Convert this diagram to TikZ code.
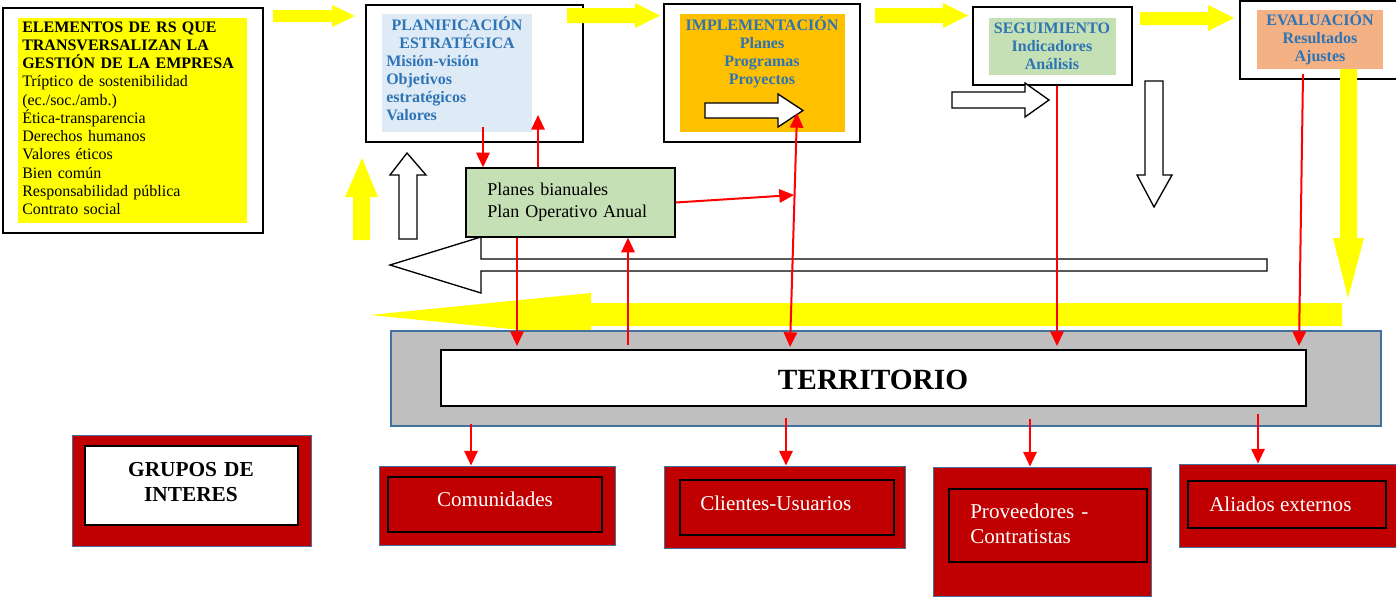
\documentclass[tikz,border=0pt]{standalone}
\usepackage{fontspec}
\setmainfont{Liberation Serif}
\usetikzlibrary{arrows.meta,fit}

\definecolor{rsyellow}{HTML}{FFFF00}
\definecolor{titleblue}{HTML}{2E74B5}
\definecolor{planblue}{HTML}{DEEBF7}
\definecolor{implorange}{HTML}{FFC000}
\definecolor{seggreen}{HTML}{C5E0B4}
\definecolor{evalsalmon}{HTML}{F4B183}
\definecolor{terrgray}{HTML}{BFBFBF}
\definecolor{grupored}{HTML}{C00000}
\definecolor{edgeblue}{HTML}{41719C}

\tikzset{
	outerbox/.style={draw=black, line width=1.5pt, inner sep=0pt},
	fillbox/.style={inner sep=0pt},
	redbox/.style={draw=edgeblue, line width=0.75pt, fill=grupored, inner sep=0pt},
	innerbox/.style={draw=black, line width=1.5pt, inner sep=0pt},
	txt/.style={inner sep=0pt, font=\fontsize{12}{13.7}\selectfont},
	bluetxt/.style={inner sep=0pt, text=titleblue, font=\bfseries\fontsize{12}{13.7}\selectfont},
	grptxt/.style={inner sep=0pt, text=white, font=\fontsize{15.8}{18.8}\selectfont},
	redarr/.style={draw=red, line width=1.5pt, -{Triangle[length=11pt,width=10pt]}},
	redboth/.style={draw=red, line width=1.5pt, {Triangle[length=11pt,width=10pt]}-{Triangle[length=11pt,width=10pt]}},
	hollow/.style={draw=black, line width=1pt, fill=white, line join=miter},
}

\begin{document}
\begin{tikzpicture}[x=0.75pt,y=-0.75pt]
	\useasboundingbox (0,0) rectangle (1396,597);

	% elementos de RS
	\node[outerbox, fit={(3,8) (263,233)}] (rs) {};
	\node[fillbox, fill=rsyellow, fit={(18,18) (247,223)}] (rsfill) {};
	\node[txt, anchor=base west, text width=180pt, align=left] (rstxt) at (22,32)
		{\textbf{ELEMENTOS DE RS QUE}\\\textbf{TRANSVERSALIZAN LA}\\\textbf{GESTIÓN DE LA EMPRESA}\\
		Tríptico de sostenibilidad\\(ec./soc./amb.)\\Ética-transparencia\\Derechos humanos\\
		Valores éticos\\Bien común\\Responsabilidad pública\\Contrato social};

	% planificacion
	\node[outerbox, fit={(366,5) (583,142)}] (plan) {};
	\node[fillbox, fill=planblue, fit={(382,14) (532,132)}] (planfill) {};
	\node[bluetxt, anchor=base, text width=110pt, align=center] (plantitle) at (457,30) {PLANIFICACIÓN\\ESTRATÉGICA};
	\node[bluetxt, anchor=base west, text width=100pt, align=left] (planlist) at (386,66) {Misión-visión\\Objetivos\\estratégicos\\Valores};

	% implementacion
	\node[outerbox, fit={(664,4) (860,142)}] (impl) {};
	\node[fillbox, fill=implorange, fit={(680,14) (845,132)}] (implfill) {};
	\node[bluetxt, anchor=base, text width=120pt, align=center] (impltxt) at (762,30) {IMPLEMENTACIÓN\\Planes\\Programas\\Proyectos};

	% seguimiento
	\node[outerbox, fit={(973,7) (1132,85)}] (seg) {};
	\node[fillbox, fill=seggreen, fit={(989,18) (1116,75)}] (segfill) {};
	\node[bluetxt, anchor=base, text width=95pt, align=center] (segtxt) at (1052,33) {SEGUIMIENTO\\Indicadores\\Análisis};

	% evaluacion
	\node[outerbox, fit={(1240,1) (1404,79)}] (eval) {};
	\node[fillbox, fill=evalsalmon, fit={(1257,10) (1383,69)}] (evalfill) {};
	\node[bluetxt, anchor=base, text width=95pt, align=center] (evaltxt) at (1320,25) {EVALUACIÓN\\Resultados\\Ajustes};

	% flechas amarillas
	\fill[rsyellow] (273,10) -- (332,10) -- (332,5) -- (355,16) -- (332,27) -- (332,22) -- (273,22) -- cycle;
	\fill[rsyellow] (567,8) -- (635,8) -- (635,3) -- (660,15.5) -- (635,28) -- (635,23) -- (567,23) -- cycle;
	\fill[rsyellow] (875,8) -- (943,8) -- (943,3) -- (968,15.5) -- (943,28) -- (943,23) -- (875,23) -- cycle;
	\fill[rsyellow] (1140,12) -- (1208,12) -- (1208,5) -- (1234,18) -- (1208,31) -- (1208,25) -- (1140,25) -- cycle;
	\fill[rsyellow] (353,240) -- (353,197) -- (345,197) -- (362,158) -- (378,197) -- (370,197) -- (370,240) -- cycle;
	\fill[rsyellow] (1340,69) -- (1357,69) -- (1357,238) -- (1364,238) -- (1348,298) -- (1333,238) -- (1340,238) -- cycle;
	\fill[rsyellow] (1342,303) -- (591,303) -- (591,293) -- (370,315) -- (591,337) -- (591,326) -- (1342,326) -- cycle;

	% flechas blancas
	\draw[hollow] (705,103) -- (778,103) -- (778,94) -- (803,110.5) -- (778,127) -- (778,118) -- (705,118) -- cycle;
	\draw[hollow] (952,92) -- (1025,92) -- (1025,83) -- (1049,100) -- (1025,117) -- (1025,108) -- (952,108) -- cycle;
	\draw[hollow] (1145,81) -- (1163,81) -- (1163,175) -- (1172,175) -- (1154,207) -- (1137,175) -- (1145,175) -- cycle;
	\draw[hollow] (399,239) -- (399,175) -- (390,175) -- (407,153) -- (426,175) -- (417,175) -- (417,239) -- cycle;
	\draw[hollow] (1267,259) -- (481,259) -- (481,237) -- (390,265) -- (481,293) -- (481,271) -- (1267,271) -- cycle;

	% planes
	\node[draw=black, line width=1pt, fill=seggreen, inner sep=0pt, fit={(466,168) (675,237)}] (bianual) {};
	\node[txt, font=\fontsize{13.5}{16.5}\selectfont, anchor=base west, text width=140pt, align=left] (biantxt) at (487,195)
		{Planes bianuales\\Plan Operativo Anual};

	% territorio
	\node[draw=edgeblue, line width=1pt, fill=terrgray, inner sep=0pt, fit={(391,331) (1381,426)}] (terrbox) {};
	\node[innerbox, fill=white, fit={(441,350) (1306,406)}] (territorio) {};
	\node[inner sep=0pt, font=\bfseries\fontsize{22}{26}\selectfont, anchor=base] (terrtxt) at (873,389) {TERRITORIO};

	% grupos de interes
	\node[redbox, fit={(72,435) (311,546)}] (grupos) {};
	\node[innerbox, fill=white, fit={(85,446) (298,525)}] (gruposin) {};
	\node[inner sep=0pt, font=\bfseries\fontsize{16}{18.8}\selectfont, anchor=base, text width=130pt, align=center] (grupostxt) at (191,476)
		{GRUPOS DE\\INTERES};

	\node[redbox, fit={(379,466) (615,545)}] (comun) {};
	\node[innerbox, fit={(388,477) (602,532)}] (comunin) {};
	\node[grptxt, anchor=base] (comuntxt) at (495,506) {Comunidades};

	\node[redbox, fit={(664,466) (905,548)}] (clientes) {};
	\node[innerbox, fit={(680,480) (894,535)}] (clientesin) {};
	\node[grptxt, anchor=base west] (clientestxt) at (700,510) {Clientes-Usuarios};

	\node[redbox, fit={(933,467) (1151,596)}] (prov) {};
	\node[innerbox, fit={(949,489) (1147,562)}] (provin) {};
	\node[grptxt, anchor=base west, text width=130pt, align=left] (provtxt) at (970,518) {Proveedores -\\Contratistas};

	\node[redbox, fit={(1179,464) (1404,547)}] (aliados) {};
	\node[innerbox, fit={(1188,481) (1386,528)}] (aliadosin) {};
	\node[grptxt, anchor=base west] (aliadostxt) at (1209,511) {Aliados externos};

	% flechas rojas
	\coordinate (planout) at (483,127);
	\coordinate (planin) at (538,115);
	\coordinate (implhit) at (794,195);
	\coordinate (impltop) at (797,113);
	\coordinate (implbot) at (790,347);
	\coordinate (biandown) at (517,346);
	\coordinate (bianup) at (628,345);
	\coordinate (segdown) at (1057,346);
	\coordinate (evaltop) at (1303,74);
	\coordinate (evaldown) at (1299,346);
	\draw[redarr] (planout) -- (planout |- bianual.north);
	\draw[redarr] (planin |- bianual.north) -- (planin);
	\draw[redarr] (bianual.east) -- (implhit);
	\draw[redboth] (implbot) -- (impltop);
	\draw[redarr] (biandown |- bianual.south) -- (biandown);
	\draw[redarr] (bianup) -- (bianup |- bianual.south);
	\draw[redarr] (segdown |- seg.south) -- (segdown);
	\draw[redarr] (evaltop) -- (evaldown);

	\coordinate (tocomun) at (471,424);
	\coordinate (toclientes) at (786,418);
	\coordinate (toprov) at (1030,419);
	\coordinate (toaliados) at (1258,414);
	\draw[redarr] (tocomun) -- (tocomun |- comun.north);
	\draw[redarr] (toclientes) -- (toclientes |- clientes.north);
	\draw[redarr] (toprov) -- (toprov |- prov.north);
	\draw[redarr] (toaliados) -- (toaliados |- aliados.north);
\end{tikzpicture}
\end{document}
